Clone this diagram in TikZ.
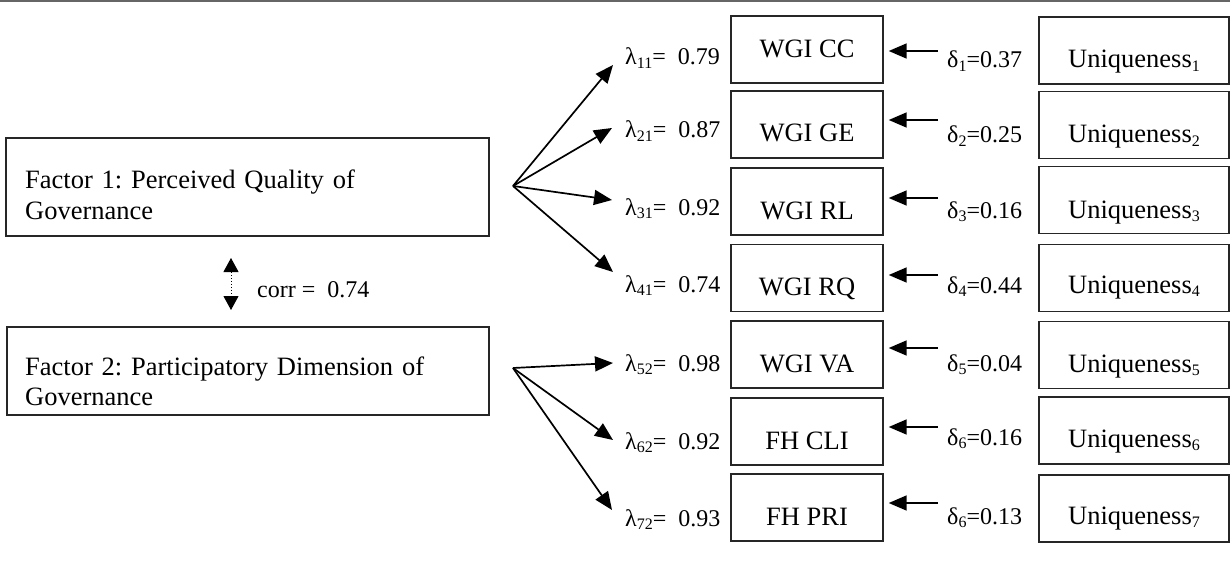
\documentclass[tikz,border=0pt]{standalone}
\usepackage{fontspec}
\setmainfont{Liberation Serif}
\usetikzlibrary{arrows.meta}
\newcommand\sbx[1]{\raisebox{-3.5pt}{\fontsize{16}{16}\selectfont #1}}
\frenchspacing
\begin{document}
\begin{tikzpicture}[x=1pt,y=-1pt,
  box/.style={draw=black!85, line width=1.4pt, inner sep=0pt, minimum height=67pt},
  ind/.style={box, minimum width=152pt},
  uniq/.style={box, minimum width=190pt},
  big/.style={font=\fontsize{26.5}{30}\selectfont, inner sep=0pt, anchor=base},
  lab/.style={font=\fontsize{24}{28}\selectfont, inner sep=0pt, anchor=base west},
  arr/.style={line width=1.7pt, -{Triangle[length=18pt,width=15pt]}},
]
\useasboundingbox (0,0) rectangle (1230,564);
\draw[black!60, line width=1.8pt] (0,0.9) -- (1230,0.9);

% factor boxes
\node[box, minimum width=483pt, minimum height=98pt] (f1) at (247.5,187) {};
\node[box, minimum width=482pt, minimum height=88pt] (f2) at (248,371) {};
\node[big, anchor=base west, text width=460pt, align=left] (f1t) at (25,189) {Factor 1: Perceived Quality of\\Governance};
\node[big, anchor=base west, text width=460pt, align=left] (f2t) at (25,375) {Factor 2: Participatory Dimension of\\Governance};

% correlation
\coordinate (c1) at (231,258);
\coordinate (c2) at (231,310);
\draw[line width=1pt, dotted, {Triangle[length=14pt,width=15pt]}-{Triangle[length=14pt,width=15pt]}] (c1) -- (c2);
\node[lab] (corr) at (257,297) {corr = \ 0.74};

% indicator boxes
\foreach \i/\y in {1/49.5,2/124.5,3/201.5,4/278,5/354.5,6/431.5,7/507.5}
  \node[ind] (w\i) at (807,\y) {};
\foreach \i/\y in {1/50.5,2/125,3/200,4/278,5/355,6/430.5,7/508.5}
  \node[uniq] (u\i) at (1134,\y) {};

\node[big] (w1t) at (807,58) {WGI CC};
\node[big] (w2t) at (807,142) {WGI GE};
\node[big] (w3t) at (807,219) {WGI RL};
\node[big] (w4t) at (807,295) {WGI RQ};
\node[big] (w5t) at (807,372) {WGI VA};
\node[big] (w6t) at (807,449) {FH CLI};
\node[big] (w7t) at (807,525) {FH PRI};

\foreach \i/\y in {1/68,2/143,3/218,4/293,5/372,6/447,7/524}
  \node[big] (u\i t) at (1134,\y) {Uniqueness\sbx{\i}};

% loadings labels
\node[lab] (l1) at (625,65) {λ\sbx{11}= \ 0.79};
\node[lab] (l2) at (625,138) {λ\sbx{21}= \ 0.87};
\node[lab] (l3) at (625,215) {λ\sbx{31}= \ 0.92};
\node[lab] (l4) at (625,292) {λ\sbx{41}= \ 0.74};
\node[lab] (l5) at (625,371) {λ\sbx{52}= \ 0.98};
\node[lab] (l6) at (625,449) {λ\sbx{62}= \ 0.92};
\node[lab] (l7) at (625,526) {λ\sbx{72}= \ 0.93};

% uniqueness labels
\node[lab] (d1) at (947,68) {δ\sbx{1}=0.37};
\node[lab] (d2) at (947,143) {δ\sbx{2}=0.25};
\node[lab] (d3) at (947,218) {δ\sbx{3}=0.16};
\node[lab] (d4) at (947,293) {δ\sbx{4}=0.44};
\node[lab] (d5) at (947,371) {δ\sbx{5}=0.04};
\node[lab] (d6) at (947,445) {δ\sbx{6}=0.16};
\node[lab] (d7) at (947,524) {δ\sbx{6}=0.13};

% loading arrows
\coordinate (o1) at (513,186);
\coordinate (o2) at (513,368);
\coordinate (t1) at (613,65);
\coordinate (t2) at (612,128);
\coordinate (t3) at (612,200);
\coordinate (t4) at (613,272);
\coordinate (t5) at (613,363);
\coordinate (t6) at (613,440);
\coordinate (t7) at (612,510);
\foreach \i in {1,2,3,4} \draw[arr] (o1) -- (t\i);
\foreach \i in {5,6,7} \draw[arr] (o2) -- (t\i);

% error arrows
\foreach \i/\y in {1/51,2/120,3/198,4/275,5/348,6/427,7/503} {
  \coordinate (e\i) at (938,\y);
  \draw[arr] (e\i) -- (e\i -| w\i.east) [shorten >=5pt];
}
\end{tikzpicture}
\end{document}
